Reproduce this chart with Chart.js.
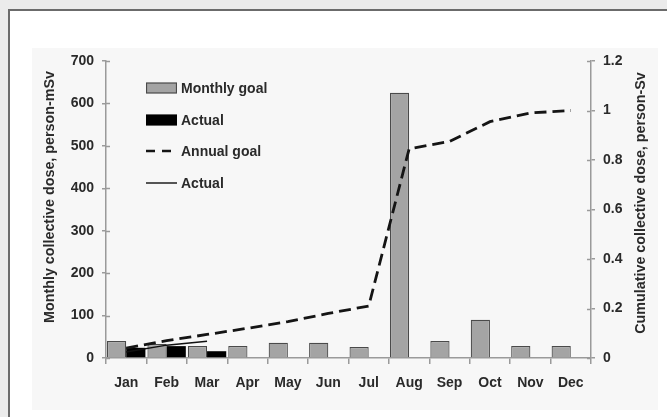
<!DOCTYPE html>
<html>
<head>
<meta charset="utf-8">
<script src="https://cdn.jsdelivr.net/npm/chart.js@4/dist/chart.umd.min.js"></script>
<style>
  html, body { margin: 0; padding: 0; }
  body { width: 667px; height: 417px; overflow: hidden; background: #ebebeb; position: relative;
         font-family: "Liberation Sans", Arial, sans-serif; }
  .frame { position: absolute; left: 8px; top: 9px; width: 700px; height: 460px;
           border: 2px solid #6b6b6b; background: #ffffff; }
  .panel { position: absolute; left: 32px; top: 48px; width: 626px; height: 362px; background: #f7f7f7; }
  .wrap { position: absolute; left: 0; top: 0; width: 667px; height: 417px; }
  #legend { position: absolute; left: 146px; top: 80px; }
  #legend .row { display: flex; align-items: center; height: 16px; margin-bottom: 15.7px;
                 font: bold 14px "Liberation Sans", Arial, sans-serif; color: #2a2a2a; }
  #legend svg { margin-right: 4px; flex: none; }
  .axis-title { position: absolute; width: 300px; height: 18px; line-height: 18px; text-align: center;
                font: bold 14.3px "Liberation Sans", Arial, sans-serif; color: #2a2a2a;
                transform: translate(-50%, -50%) rotate(-90deg); white-space: nowrap; }
</style>
</head>
<body>
<div class="frame"></div>
<div class="panel"></div>
<div class="wrap"><canvas id="c" width="667" height="417"></canvas></div>
<div id="legend"></div>
<div class="axis-title" style="left:50px; top:197px;">Monthly collective dose, person-mSv</div>
<div class="axis-title" style="left:641px; top:203px;">Cumulative collective dose, person-Sv</div>
<script>
// Months on the category axis
const months = ['Jan', 'Feb', 'Mar', 'Apr', 'May', 'Jun', 'Jul', 'Aug', 'Sep', 'Oct', 'Nov', 'Dec'];

// Monthly collective dose, person-mSv (left axis)
const monthlyGoal = [40, 33, 28, 28, 36, 36, 26, 625, 40, 90, 28, 28];
const monthlyActual = [24, 28, 16, null, null, null, null, null, null, null, null, null];

// Cumulative collective dose, person-Sv (right axis)
const annualGoal = [0.04, 0.07, 0.095, 0.12, 0.147, 0.18, 0.21, 0.845, 0.875, 0.955, 0.99, 1.0];
const annualActual = [0.024, 0.052, 0.068, null, null, null, null, null, null, null, null, null];

// Axis ranges and steps
const leftAxis = { max: 700, step: 100 };
const rightAxis = { max: 1.2, step: 0.2 };

const FONT = { family: '"Liberation Sans", Arial, sans-serif', size: 14, weight: 'bold' };
const TEXT = '#2a2a2a';
const AXIS = '#9a9a9a';

// Tick marks that cross the vertical axis lines (inner half)
const crossTicks = {
  id: 'crossTicks',
  afterDraw(chart) {
    const ctx = chart.ctx;
    ['y', 'y1'].forEach(id => {
      const s = chart.scales[id];
      const x = id === 'y' ? s.right : s.left;
      const dir = id === 'y' ? 1 : -1;
      ctx.save();
      ctx.strokeStyle = AXIS;
      ctx.lineWidth = 1.5;
      s.ticks.forEach(t => {
        const y = Math.round(s.getPixelForValue(t.value)) + 0.5;
        ctx.beginPath();
        ctx.moveTo(x, y);
        ctx.lineTo(x + dir * 4, y);
        ctx.stroke();
      });
      ctx.restore();
    });
  }
};

// HTML legend built from the chart's datasets
const htmlLegend = {
  id: 'htmlLegend',
  afterUpdate(chart) {
    const box = document.getElementById('legend');
    box.innerHTML = '';
    chart.data.datasets.forEach(ds => {
      const row = document.createElement('div');
      row.className = 'row';
      let sample;
      if (ds.type === 'bar') {
        sample = '<svg width="31" height="12"><rect x="0.5" y="1" width="30" height="10" fill="' + ds.backgroundColor +
                 '" stroke="' + ds.borderColor + '" stroke-width="1.2"/></svg>';
      } else if (ds.borderDash && ds.borderDash.length) {
        sample = '<svg width="31" height="12"><line x1="0" y1="6" x2="31" y2="6" stroke="' + ds.borderColor +
                 '" stroke-width="2.5" stroke-dasharray="9 7"/></svg>';
      } else {
        sample = '<svg width="31" height="12"><line x1="0" y1="6" x2="31" y2="6" stroke="#555" stroke-width="2"/></svg>';
      }
      row.innerHTML = sample + '<span>' + ds.label + '</span>';
      box.appendChild(row);
    });
  }
};

new Chart(document.getElementById('c'), {
  data: {
    labels: months,
    datasets: [
      { type: 'bar', label: 'Monthly goal', data: monthlyGoal, yAxisID: 'y', order: 2,
        backgroundColor: '#a4a4a4', borderColor: '#4a4a4a', borderWidth: 1.2,
        categoryPercentage: 0.95, barPercentage: 1.0 },
      { type: 'bar', label: 'Actual', data: monthlyActual, yAxisID: 'y', order: 2,
        backgroundColor: '#000000', borderColor: '#000000', borderWidth: 0,
        categoryPercentage: 0.95, barPercentage: 1.0 },
      { type: 'line', label: 'Annual goal', data: annualGoal, yAxisID: 'y1', order: 1,
        borderColor: '#151515', borderWidth: 2.8, borderDash: [12, 6], pointRadius: 0,
        tension: 0, fill: false },
      { type: 'line', label: 'Actual', data: annualActual, yAxisID: 'y1', order: 0,
        borderColor: '#111111', borderWidth: 1.5, pointRadius: 0, tension: 0, fill: false,
        spanGaps: false }
    ]
  },
  options: {
    responsive: false,
    animation: false,
    layout: { padding: { left: 35, right: 18, top: 61, bottom: 0 } },
    plugins: { legend: { display: false }, tooltip: { enabled: false } },
    scales: {
      x: {
        type: 'category',
        offset: true,
        border: { display: true, color: AXIS, width: 1.5 },
        grid: { offset: true, drawOnChartArea: false, drawTicks: true, tickLength: 6, color: AXIS, lineWidth: 1.5 },
        ticks: { font: FONT, color: TEXT, padding: 11, maxRotation: 0, autoSkip: false },
        afterFit(s) { s.height = 59; }
      },
      y: {
        position: 'left',
        min: 0, max: leftAxis.max,
        border: { display: true, color: AXIS, width: 1.5 },
        grid: { drawOnChartArea: false, drawTicks: true, tickLength: 4, color: AXIS, lineWidth: 1.5 },
        ticks: { stepSize: leftAxis.step, font: FONT, color: TEXT, padding: 8 },
        afterFit(s) { s.width = 71; }
      },
      y1: {
        position: 'right',
        min: 0, max: rightAxis.max,
        border: { display: true, color: AXIS, width: 1.5 },
        grid: { drawOnChartArea: false, drawTicks: true, tickLength: 4, color: AXIS, lineWidth: 1.5 },
        ticks: { stepSize: rightAxis.step, font: FONT, color: TEXT, padding: 8,
                 callback: v => String(Number(v.toFixed(1))) },
        afterFit(s) { s.width = 58; }
      }
    }
  },
  plugins: [crossTicks, htmlLegend]
});
</script>
</body>
</html>
